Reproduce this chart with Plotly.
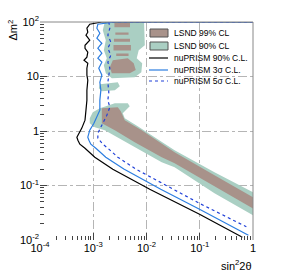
import plotly.graph_objects as go

# ---------------- data ----------------
# nuPRISM 90% C.L. (black)
np90_s2 = [1.0, 1.45e-3, 8.6e-4, 7.6e-4, 7.9e-4, 7.3e-4, 8.6e-4, 7.0e-4, 7.0e-4, 7.9e-4,
           7.6e-4, 6.7e-4, 7.9e-4, 7.6e-4, 7.6e-4, 7.9e-4, 7.6e-4, 7.6e-4, 7.3e-4, 7.0e-4,
           6.1e-4, 5.37e-4, 4.93e-4, 5.15e-4, 5.6e-4, 7.0e-4, 1.07e-3, 2.33e-3, 6.55e-3,
           1.15e-2, 9.9e-2, 0.632]
np90_dm2 = [100, 100, 91, 77, 65, 57.3, 46.4, 37.5, 33.0, 27.9,
            22.6, 19.9, 17.5, 14.2, 10.6, 8.55, 5.61, 3.67, 2.41, 1.58,
            1.13, 0.91, 0.77, 0.678, 0.573, 0.483, 0.331, 0.199, 0.115,
            0.0855, 0.0297, 0.0112]

# nuPRISM 3 sigma C.L. (blue solid)
np3s_s2 = [1.0, 2.54e-3, 1.22e-3, 1.17e-3, 1.33e-3, 1.17e-3, 1.45e-3, 1.22e-3, 1.45e-3, 1.22e-3,
           1.45e-3, 1.27e-3, 1.45e-3, 1.33e-3, 1.39e-3, 1.33e-3, 1.33e-3, 1.22e-3, 1.03e-3, 8.6e-4,
           7.9e-4, 8.3e-4, 9.0e-4, 1.12e-3, 1.72e-3, 3.75e-3, 1.05e-2, 1.85e-2, 9.9e-2, 0.82]
np3s_dm2 = [100, 100, 91, 77, 62.2, 50.5, 40.8, 33.0, 26.8, 21.7,
            18.3, 14.2, 10.6, 7.86, 5.61, 3.67, 2.41, 1.95, 1.39, 1.035,
            0.77, 0.678, 0.573, 0.483, 0.331, 0.2, 0.115, 0.0855, 0.0367, 0.0122]

# nuPRISM 5 sigma C.L. (blue dotted)
np5s_s2 = [1.0, 1.96e-3, 2.05e-3, 1.88e-3, 2.14e-3, 1.88e-3, 2.14e-3, 1.88e-3, 2.05e-3, 1.96e-3,
           1.88e-3, 1.96e-3, 1.88e-3, 2.05e-3, 1.8e-3, 1.45e-3, 1.22e-3, 1.22e-3, 1.51e-3, 1.88e-3,
           2.89e-3, 6.3e-3, 1.77e-2, 3.1e-2, 9.9e-2, 0.75]
np5s_dm2 = [100, 100, 77, 57.3, 42.6, 33.0, 24.6, 18.3, 14.2, 10.6,
            7.86, 5.15, 3.67, 2.73, 1.95, 1.28, 0.91, 0.738, 0.573, 0.483,
            0.331, 0.2, 0.115, 0.0855, 0.047, 0.0175]

# LSND 90% CL allowed regions (teal)
lsnd90_band_s2 = [8.6e-4, 8.6e-4, 9.8e-4, 1.33e-3, 2.54e-3, 4.45e-3, 4.84e-3, 3.58e-3, 3.91e-3, 6.84e-3,
                  3.37e-2, 0.189, 1.0, 1.0, 0.189, 3.37e-2, 1.93e-2, 4.45e-3, 1.65e-3, 1.07e-3]
lsnd90_band_dm2 = [1.39, 1.72, 2.21, 2.62, 3.24, 3.24, 2.85, 2.12, 1.72, 1.225,
                   0.444, 0.175, 0.075, 0.0285, 0.0723, 0.217, 0.268, 0.597, 1.035, 1.17]
lsnd90_top_s2 = [1.65e-3, 9.0e-3, 9.3e-3, 7.14e-3, 6.55e-3, 8.3e-3, 8.0e-3, 6.0e-3, 2.23e-3, 1.72e-3,
                 1.58e-3, 1.8e-3, 1.58e-3, 1.72e-3, 1.51e-3]
lsnd90_top_dm2 = [100, 100, 37.5, 30.4, 21.7, 17.5, 12.0, 9.7, 9.3, 11.5,
                  16.1, 21.7, 30.4, 46.4, 70.8]
lsnd90_isl_s2 = [1.33e-3, 2.89e-3, 3.15e-3, 2.54e-3, 1.45e-3, 1.27e-3]
lsnd90_isl_dm2 = [7.22, 7.86, 6.64, 5.61, 5.37, 6.1]

# LSND 99% CL allowed regions (brown)
lsnd99_band_s2 = [1.45e-3, 2.89e-3, 3.29e-3, 3.91e-3, 8.13e-3, 3.37e-2, 0.189, 1.0, 1.0, 0.189,
                  3.37e-2, 1.93e-2, 6.0e-3, 2.54e-3, 1.45e-3]
lsnd99_band_dm2 = [2.62, 2.73, 2.31, 1.58, 1.035, 0.408, 0.155, 0.061, 0.038, 0.097,
                   0.257, 0.331, 0.622, 1.035, 1.39]
lsnd99_blob_s2 = [2.33e-3, 4.45e-3, 5.75e-3, 6.28e-3, 4.84e-3, 2.23e-3, 2.05e-3]
lsnd99_blob_dm2 = [19.9, 21.7, 17.5, 13.1, 11.5, 11.5, 14.8]
# horizontal stripes at high dm2: (s2 low, s2 high, dm2 low, dm2 high)
lsnd99_stripe_s2_lo = [2.5e-3, 2.6e-3, 2.45e-3, 2.4e-3, 2.7e-3]
lsnd99_stripe_s2_hi = [4.9e-3, 4.6e-3, 4.9e-3, 5.1e-3, 4.6e-3]
lsnd99_stripe_dm2_lo = [80, 58.5, 43.5, 30.0, 23.8]
lsnd99_stripe_dm2_hi = [97, 64, 49.5, 38.0, 26.5]

x_tickvals = [1e-4, 1e-3, 1e-2, 1e-1, 1]
x_ticktext = ["10<sup>-4</sup>", "10<sup>-3</sup>", "10<sup>-2</sup>", "10<sup>-1</sup>", "1"]
y_tickvals = [1e-2, 1e-1, 1, 10, 100]
y_ticktext = ["10<sup>-2</sup>", "10<sup>-1</sup>", "1", "10", "10<sup>2</sup>"]

legend_labels = ["LSND 99% CL", "LSND 90% CL", "nuPRISM 90% C.L.",
                 "nuPRISM 3σ C.L.", "nuPRISM 5σ C.L."]

# ---------------- styles ----------------
TEAL = "#aacfc3"
BROWN = "#a8928a"
BLUE = "#2b7de0"
DBLUE = "#2040d8"
LW = 1.2


def join(polys):
    xs, ys = [], []
    for px, py in polys:
        xs += list(px) + [px[0], None]
        ys += list(py) + [py[0], None]
    return xs, ys


teal_x, teal_y = join([(lsnd90_band_s2, lsnd90_band_dm2),
                       (lsnd90_top_s2, lsnd90_top_dm2),
                       (lsnd90_isl_s2, lsnd90_isl_dm2)])
stripes = []
for a, b, c, d in zip(lsnd99_stripe_s2_lo, lsnd99_stripe_s2_hi,
                      lsnd99_stripe_dm2_lo, lsnd99_stripe_dm2_hi):
    stripes.append(([a, b, b, a], [c, c, d, d]))
brown_x, brown_y = join([(lsnd99_band_s2, lsnd99_band_dm2),
                         (lsnd99_blob_s2, lsnd99_blob_dm2)] + stripes)

fig = go.Figure()
fig.add_trace(go.Scatter(x=teal_x, y=teal_y, mode="lines", fill="toself",
                         fillcolor=TEAL, line=dict(width=0, color=TEAL),
                         name=legend_labels[1], showlegend=False, hoverinfo="skip"))
fig.add_trace(go.Scatter(x=brown_x, y=brown_y, mode="lines", fill="toself",
                         fillcolor=BROWN, line=dict(width=0, color=BROWN),
                         name=legend_labels[0], showlegend=False, hoverinfo="skip"))
fig.add_trace(go.Scatter(x=np90_s2, y=np90_dm2, mode="lines",
                         line=dict(color="black", width=LW), name=legend_labels[2],
                         showlegend=False))
fig.add_trace(go.Scatter(x=np3s_s2, y=np3s_dm2, mode="lines",
                         line=dict(color=BLUE, width=LW), name=legend_labels[3],
                         showlegend=False))
fig.add_trace(go.Scatter(x=np5s_s2, y=np5s_dm2, mode="lines",
                         line=dict(color=DBLUE, width=LW, dash="dot"), name=legend_labels[4],
                         showlegend=False))

minor_x = [m * 10.0 ** e for e in range(-4, 0) for m in range(2, 10)]
minor_y = [m * 10.0 ** e for e in range(-2, 2) for m in range(2, 10)]

axis_common = dict(type="log", tickmode="array", ticks="inside", ticklen=7,
                   tickcolor="#444", showgrid=True, gridcolor="#b5b5b5",
                   griddash="dashdot", gridwidth=1, showline=False, zeroline=False,
                   tickfont=dict(size=11, color="black"))
fig.update_xaxes(range=[-4, 0], tickvals=x_tickvals, ticktext=x_ticktext,
                 minor=dict(tickvals=minor_x, ticks="inside", ticklen=4,
                            tickcolor="#444", showgrid=False),
                 **axis_common)
fig.update_yaxes(range=[-2, 2], tickvals=y_tickvals, ticktext=y_ticktext,
                 minor=dict(tickvals=minor_y, ticks="inside", ticklen=4,
                            tickcolor="#444", showgrid=False),
                 **axis_common)

# ---- hand-drawn legend (compact, as in the reference) ----
PW, PH, L0, B0 = 213.0, 218.0, 40.0, 240.0   # plot area in px


def px_x(v):
    return (v - L0) / PW


def px_y(v):
    return (B0 - v) / PH


rows = [33, 46, 58, 70, 81]
shapes = [
    dict(type="line", xref="paper", yref="paper", x0=0, x1=1, y0=1, y1=1,
         line=dict(color="#888", width=1)),
    dict(type="line", xref="paper", yref="paper", x0=1, x1=1, y0=0, y1=1,
         line=dict(color="#888", width=1)),
]
for i, fc in enumerate([BROWN, TEAL]):
    shapes.append(dict(type="rect", xref="paper", yref="paper",
                       x0=px_x(150), x1=px_x(168), y0=px_y(rows[i] + 4), y1=px_y(rows[i] - 4),
                       fillcolor=fc, line=dict(color="#555", width=1)))
for i, (c, d) in enumerate([("black", "solid"), (BLUE, "solid"), (DBLUE, "dot")]):
    shapes.append(dict(type="line", xref="paper", yref="paper",
                       x0=px_x(149), x1=px_x(168), y0=px_y(rows[i + 2]), y1=px_y(rows[i + 2]),
                       line=dict(color=c, width=LW, dash=d)))

annotations = [
    dict(text="Δm<sup>2</sup>", xref="paper", yref="paper", x=px_x(12), y=px_y(17),
         xanchor="center", yanchor="top", textangle=-90, showarrow=False,
         font=dict(size=11)),
    dict(text="sin<sup>2</sup>2θ", xref="paper", yref="paper", x=px_x(254), y=px_y(265),
         xanchor="right", yanchor="middle", showarrow=False, font=dict(size=11)),
]
for lab, r in zip(legend_labels, rows):
    annotations.append(dict(text=lab, xref="paper", yref="paper", x=px_x(172), y=px_y(r),
                            xanchor="left", yanchor="middle", showarrow=False,
                            font=dict(size=8.5, color="black")))

fig.update_layout(
    width=282, height=273,
    margin=dict(l=40, r=29, t=22, b=33),
    paper_bgcolor="white", plot_bgcolor="white",
    font=dict(family="Liberation Sans, Arial, sans-serif", size=11, color="black"),
    showlegend=False,
    hovermode=False,
    shapes=shapes,
    annotations=annotations,
)

fig.write_html("out.html", config={"displayModeBar": False, "staticPlot": True},
               post_script="document.body.style.margin='0px';")
